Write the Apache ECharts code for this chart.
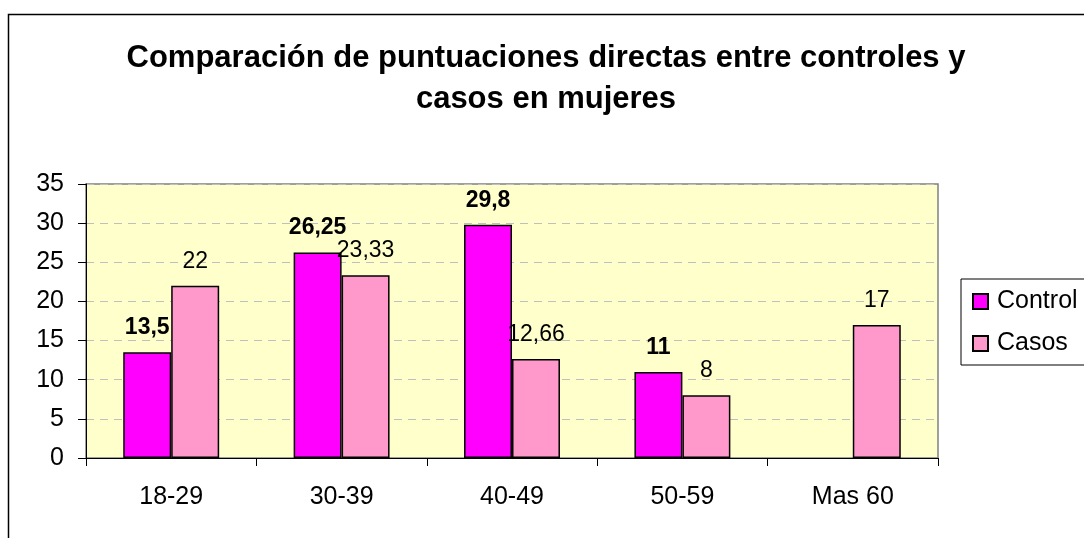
<!DOCTYPE html>
<html><head><meta charset="utf-8">
<script src="https://cdn.jsdelivr.net/npm/echarts@6/dist/echarts.min.js"></script>
<style>html,body{margin:0;padding:0;background:#fff}#c{width:1084px;height:538px}</style>
</head><body><div id="c"></div>
<script>
const categories = ['18-29', '30-39', '40-49', '50-59', 'Mas 60'];
const controlValues = [13.5, 26.25, 29.8, 11, null];
const casosValues = [22, 23.33, 12.66, 8, 17];
const yTicks = [0, 5, 10, 15, 20, 25, 30, 35];

const fmt = v => String(v.value).replace('.', ',');
const FF = 'Liberation Sans, Arial, sans-serif';
const chart = echarts.init(document.getElementById('c'));
chart.setOption({
  backgroundColor: '#fff',
  animation: false,
  textStyle: { fontFamily: FF },
  graphic: [{
    type: 'rect', shape: { x: 8.5, y: 14.5, width: 1200, height: 700 },
    style: { fill: 'none', stroke: '#000', lineWidth: 1.5 }, z: -1
  }],
  title: {
    text: 'Comparación de puntuaciones directas entre controles y\ncasos en mujeres',
    left: 541, top: 33, textAlign: 'center',
    textStyle: { fontSize: 31, fontWeight: 'bold', color: '#000', lineHeight: 41, fontFamily: FF }
  },
  legend: {
    orient: 'vertical', left: 961, top: 279,
    data: ['Control', 'Casos'],
    itemWidth: 15, itemHeight: 15, itemGap: 17,
    padding: [10, 12, 9, 11],
    borderColor: '#000', borderWidth: 1,
    icon: 'rect',
    textStyle: { fontSize: 25, lineHeight: 25, color: '#000', padding: [0, 0, 0, 4], fontFamily: FF }
  },
  grid: { left: 86, right: 146, top: 184, bottom: 80, show: true, backgroundColor: '#FFFFCC', borderColor: '#808080', borderWidth: 1.5 },
  xAxis: {
    type: 'category', data: categories,
    axisLine: { lineStyle: { color: '#000', width: 1 } },
    axisTick: { show: true, length: 8, lineStyle: { color: '#000' } },
    axisLabel: { fontSize: 25, color: '#000', margin: 27 }
  },
  yAxis: {
    type: 'value', min: 0, max: 35, interval: 5,
    axisLine: { show: true, lineStyle: { color: '#000' } },
    axisTick: { show: true, length: 8, lineStyle: { color: '#000' } },
    axisLabel: { fontSize: 25, color: '#000', margin: 22,
      formatter: v => yTicks.includes(v) ? String(v) : '' },
    splitLine: { lineStyle: { color: '#BFBFBF', type: [8, 6], width: 1 } }
  },
  series: [
    {
      name: 'Control', type: 'bar', data: controlValues,
      barGap: '0%', barCategoryGap: '43.7%',
      itemStyle: { color: '#FF00FF', borderColor: '#000', borderWidth: 1.5 },
      label: { show: true, position: 'top', distance: 13, fontSize: 23, fontWeight: 'bold', color: '#000', formatter: fmt }
    },
    {
      name: 'Casos', type: 'bar', data: casosValues,
      itemStyle: { color: '#FF99CC', borderColor: '#000', borderWidth: 1.5 },
      label: { show: true, position: 'top', distance: 13, fontSize: 23, color: '#000', formatter: fmt }
    }
  ]
});
</script></body></html>
